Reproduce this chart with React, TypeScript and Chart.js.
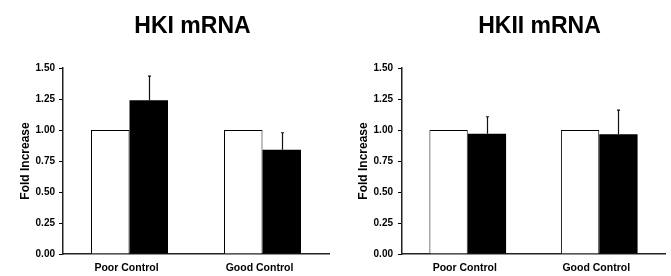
import React, { useEffect, useRef } from "react";
import { Chart, registerables } from "chart.js";

Chart.register(...registerables);

const categories = ["Poor Control", "Good Control"];
const yTicks = [0, 0.25, 0.5, 0.75, 1.0, 1.25, 1.5];

const hk1Title = "HKI mRNA";
const hk1White = [1.0, 1.0];
const hk1Black = [1.24, 0.84];
const hk1BlackErr = [0.195, 0.138];

const hk2Title = "HKII mRNA";
const hk2White = [1.0, 1.0];
const hk2Black = [0.97, 0.965];
const hk2BlackErr = [0.137, 0.196];

const FONT = "'Liberation Sans', Arial, Helvetica, sans-serif";

const errorBarPlugin = {
  id: "errorBars",
  afterDatasetsDraw(chart: any, _args: any, opts: any) {
    const { ctx } = chart;
    const y = chart.scales.y;
    const meta = chart.getDatasetMeta(opts.dataset);
    const data = chart.data.datasets[opts.dataset].data as number[];
    ctx.save();
    ctx.strokeStyle = "#111";
    ctx.lineWidth = 1.2;
    meta.data.forEach((bar: any, i: number) => {
      const v = data[i];
      const e = opts.values[i];
      const yBase = y.getPixelForValue(v);
      const yTop = y.getPixelForValue(v + e);
      const x = Math.round(bar.x) + 0.5;
      ctx.beginPath();
      ctx.moveTo(x, yBase);
      ctx.lineTo(x, yTop);
      ctx.moveTo(x - 1.5, yTop);
      ctx.lineTo(x + 1.5, yTop);
      ctx.stroke();
    });
    ctx.restore();
  },
};

const panelTitlePlugin = {
  id: "panelTitle",
  afterDraw(chart: any, _args: any, opts: any) {
    const { ctx } = chart;
    ctx.save();
    ctx.fillStyle = "#000";
    ctx.font = `bold ${opts.size}px ${FONT}`;
    ctx.textAlign = "center";
    ctx.textBaseline = "alphabetic";
    ctx.fillText(opts.text, opts.x, opts.y);
    ctx.restore();
  },
};

type PanelProps = {
  title: string;
  white: number[];
  black: number[];
  err: number[];
  left: number;
  axisWidth: number;
  padRight: number;
  titleX: number;
  yTitlePad: number;
  tickPad: number;
  catPct: number;
};

function Panel(p: PanelProps) {
  const ref = useRef<HTMLCanvasElement | null>(null);
  useEffect(() => {
    if (!ref.current) return;
    const chart = new Chart(ref.current, {
      type: "bar",
      data: {
        labels: categories,
        datasets: [
          {
            label: "Baseline",
            data: p.white,
            backgroundColor: "#ffffff",
            borderColor: "#000000",
            borderWidth: 1,
          },
          {
            label: "Treated",
            data: p.black,
            backgroundColor: "#000000",
            borderColor: "#000000",
            borderWidth: 0,
          },
        ],
      },
      plugins: [errorBarPlugin, panelTitlePlugin],
      options: {
        responsive: false,
        animation: false,
        devicePixelRatio: 1,
        layout: { padding: { left: 0, right: p.padRight, top: 68, bottom: 0 } },
        datasets: {
          bar: { categoryPercentage: p.catPct, barPercentage: 1 },
        },
        plugins: {
          legend: { display: false },
          tooltip: { enabled: false },
          title: { display: false },
          errorBars: { dataset: 1, values: p.err },
          panelTitle: { text: p.title, x: p.titleX, y: 33, size: 23 },
        } as any,
        scales: {
          x: {
            grid: { display: false, drawTicks: false },
            border: { display: true, color: "#222", width: 1.5 },
            ticks: {
              color: "#000",
              padding: 8,
              labelOffset: -3,
              font: { family: FONT, weight: "bold", size: 10.5 },
            },
            afterFit: (s: any) => {
              s.height = 22;
            },
          },
          y: {
            min: 0,
            max: 1.5,
            afterBuildTicks: (s: any) => {
              s.ticks = yTicks.map((v) => ({ value: v }));
            },
            grid: {
              display: true,
              drawOnChartArea: false,
              drawTicks: true,
              tickLength: 4,
              color: "#000",
            },
            border: { display: true, color: "#222", width: 1.5 },
            ticks: {
              color: "#000",
              padding: p.tickPad,
              font: { family: FONT, weight: "bold", size: 10 },
              callback: (v: any) => Number(v).toFixed(2),
            },
            title: {
              display: true,
              text: "Fold Increase",
              color: "#000",
              font: { family: FONT, weight: "bold", size: 12 },
              padding: { top: p.yTitlePad, bottom: 0 },
            },
            afterFit: (s: any) => {
              s.width = p.axisWidth;
            },
          },
        },
      },
    });
    return () => chart.destroy();
  }, []);
  return (
    <canvas
      ref={ref}
      width={335}
      height={276}
      style={{ position: "absolute", left: p.left, top: 0, width: 335, height: 276 }}
    />
  );
}

export default function App() {
  return (
    <div
      style={{
        position: "absolute",
        left: 0,
        top: 0,
        width: 671,
        height: 276,
        background: "#fff",
      }}
    >
      <Panel
        title={hk1Title}
        white={hk1White}
        black={hk1Black}
        err={hk1BlackErr}
        left={0}
        axisWidth={63}
        padRight={6}
        titleX={192.5}
        yTitlePad={18}
        tickPad={4}
        catPct={0.579}
      />
      <Panel
        title={hk2Title}
        white={hk2White}
        black={hk2Black}
        err={hk2BlackErr}
        left={336}
        axisWidth={66}
        padRight={6}
        titleX={203.5}
        yTitlePad={20}
        tickPad={5}
        catPct={0.583}
      />
    </div>
  );
}
